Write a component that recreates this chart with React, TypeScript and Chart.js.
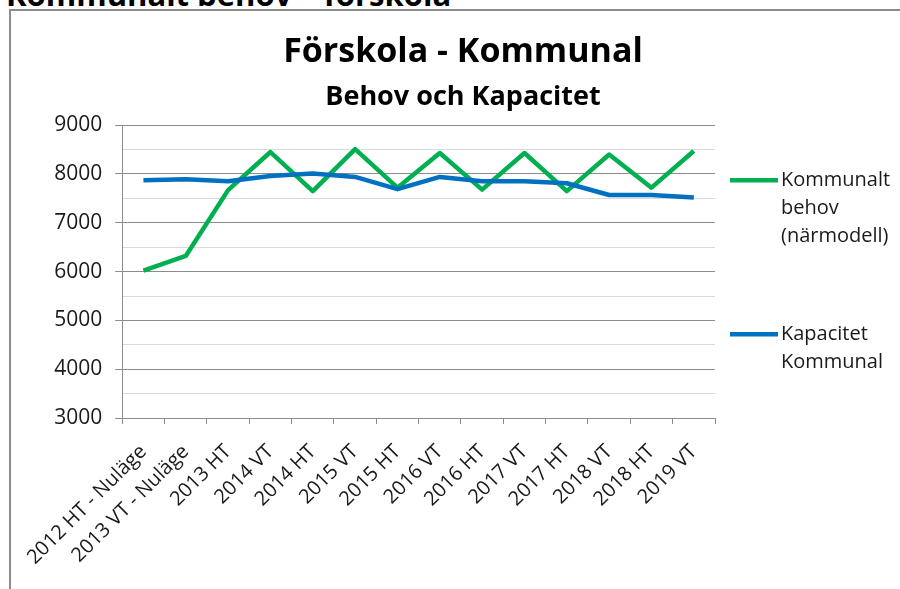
import React, { useEffect, useRef } from "react";
import { Chart, registerables } from "chart.js";

Chart.register(...registerables);

const pageHeading = "Kommunalt behov – förskola";
const chartTitle = "Förskola - Kommunal";
const chartSubtitle = "Behov och Kapacitet";

const categories = [
  "2012 HT - Nuläge",
  "2013 VT - Nuläge",
  "2013 HT",
  "2014 VT",
  "2014 HT",
  "2015 VT",
  "2015 HT",
  "2016 VT",
  "2016 HT",
  "2017 VT",
  "2017 HT",
  "2018 VT",
  "2018 HT",
  "2019 VT",
];

const behovValues = [6020, 6320, 7670, 8450, 7650, 8510, 7720, 8430, 7680, 8430, 7650, 8400, 7720, 8470];
const kapacitetValues = [7870, 7890, 7850, 7960, 8010, 7940, 7690, 7940, 7850, 7850, 7810, 7570, 7570, 7520];

const behovLabel = ["Kommunalt", "behov", "(närmodell)"];
const kapacitetLabel = ["Kapacitet", "Kommunal"];

const yMin = 3000;
const yMax = 9000;
const yStep = 500;
const yLabelStep = 1000;

const FONT = "'Open Sans'";
const GREEN = "#00B050";
const BLUE = "#0070C0";
const MAJOR = "#8c8c8c";
const MINOR = "#d9d9d9";
const TEXT = "#1a1a1a";

const sideLegend = {
  id: "sideLegend",
  afterDraw(chart: any) {
    const { ctx, chartArea } = chart;
    const offsets = [55, 209];
    chart.data.datasets.forEach((ds: any, i: number) => {
      const y = chartArea.top + offsets[i];
      const x0 = chartArea.right + 15;
      ctx.save();
      ctx.strokeStyle = ds.borderColor;
      ctx.lineWidth = 4.5;
      ctx.lineCap = "butt";
      ctx.beginPath();
      ctx.moveTo(x0, y);
      ctx.lineTo(x0 + 48, y);
      ctx.stroke();
      ctx.fillStyle = TEXT;
      ctx.font = "20px " + FONT;
      ctx.textBaseline = "middle";
      ctx.textAlign = "left";
      (ds.legendLines as string[]).forEach((line, k) => {
        ctx.fillText(line, x0 + 51, y + k * 28);
      });
      ctx.restore();
    });
  },
};

export default function App() {
  const canvasRef = useRef<HTMLCanvasElement | null>(null);

  useEffect(() => {
    if (!canvasRef.current) return;
    const chart = new Chart(canvasRef.current, {
      type: "line",
      data: {
        labels: categories,
        datasets: [
          {
            label: behovLabel.join(" "),
            legendLines: behovLabel,
            data: behovValues,
            borderColor: GREEN,
            backgroundColor: GREEN,
            borderWidth: 4.5,
            pointRadius: 0,
            tension: 0,
            borderJoinStyle: "round",
            yAxisID: "y",
            order: 1,
          } as any,
          {
            label: kapacitetLabel.join(" "),
            legendLines: kapacitetLabel,
            data: kapacitetValues,
            borderColor: BLUE,
            backgroundColor: BLUE,
            borderWidth: 4.5,
            pointRadius: 0,
            tension: 0,
            borderJoinStyle: "round",
            yAxisID: "y",
            order: 0,
          } as any,
        ],
      },
      options: {
        responsive: false,
        animation: false,
        devicePixelRatio: 1,
        layout: { padding: 0 },
        plugins: {
          legend: { display: false },
          tooltip: { enabled: false },
          title: {
            display: true,
            text: chartTitle,
            color: "#000",
            font: { family: FONT, size: 34, weight: "bold" },
            padding: { top: 21, bottom: 2 },
          },
          subtitle: {
            display: true,
            text: chartSubtitle,
            color: "#000",
            font: { family: FONT, size: 27, weight: "bold" },
            padding: { top: 6, bottom: 12 },
          },
        },
        scales: {
          x: {
            offset: true,
            grid: {
              offset: true,
              drawOnChartArea: false,
              drawTicks: true,
              tickLength: 6,
              tickColor: MAJOR,
            },
            border: { display: true, color: MAJOR, width: 1 },
            ticks: {
              color: TEXT,
              font: { family: FONT, size: 20 },
              minRotation: 45,
              maxRotation: 45,
              autoSkip: false,
              padding: 16,
            },
            afterFit(scale: any) {
              scale.height = 171;
            },
          },
          y: {
            min: yMin,
            max: yMax,
            position: "left",
            grid: {
              color: (c: any) => (c.tick && c.tick.value % yLabelStep === 0 ? MAJOR : MINOR),
              tickColor: (c: any) => (c.tick && c.tick.value % yLabelStep === 0 ? MAJOR : "rgba(0,0,0,0)"),
              tickLength: 7,
              lineWidth: 1,
            },
            border: { display: true, color: MAJOR, width: 1 },
            ticks: {
              stepSize: yStep,
              autoSkip: false,
              color: TEXT,
              font: { family: FONT, size: 21 },
              padding: 13,
              callback: (v: any) => (Number(v) % yLabelStep === 0 ? String(v) : ""),
            },
            afterFit(scale: any) {
              scale.width = 110;
            },
          },
          legendSpace: {
            type: "linear",
            position: "right",
            display: true,
            grid: { display: false, drawTicks: false },
            border: { display: false },
            ticks: { display: false },
            afterFit(scale: any) {
              scale.width = 200;
            },
          },
        },
      } as any,
      plugins: [sideLegend],
    });
    return () => chart.destroy();
  }, []);

  return (
    <div
      style={{
        position: "fixed",
        left: 0,
        top: 0,
        width: 900,
        height: 589,
        overflow: "hidden",
        background: "#fff",
      }}
    >
      <div
        style={{
          position: "absolute",
          left: 6,
          top: -21,
          fontFamily: FONT,
          fontWeight: "bold",
          fontSize: 31,
          lineHeight: "31px",
          color: "#000",
          whiteSpace: "nowrap",
        }}
      >
        {pageHeading}
      </div>
      <div
        style={{
          position: "absolute",
          left: 9,
          top: 9,
          width: 1000,
          height: 1000,
          borderLeft: "2px solid #8c8c8c",
          borderTop: "2px solid #8c8c8c",
        }}
      />
      <canvas
        ref={canvasRef}
        width={904}
        height={578}
        style={{ position: "absolute", left: 11, top: 11, display: "block" }}
      />
    </div>
  );
}
